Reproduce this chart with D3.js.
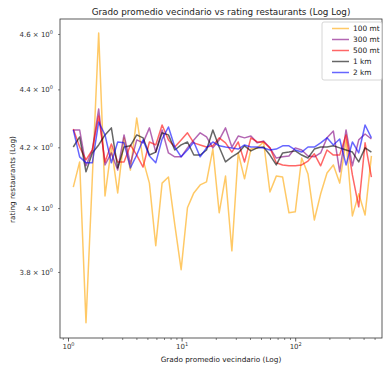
<!DOCTYPE html>
<html>
<head>
<meta charset="utf-8">
<script src="https://cdn.jsdelivr.net/npm/d3@7"></script>
<style>
  html, body { margin: 0; padding: 0; background: #fff; }
  svg { display: block; font-family: "DejaVu Sans", sans-serif; }
</style>
</head>
<body>
<svg id="chart" width="383" height="367"></svg>
<script>
// Average neighbourhood degree (bin centres, log-spaced)
const grado = [1.113, 1.266, 1.440, 1.637, 1.862, 2.117, 2.408, 2.738, 3.114, 3.541,
  4.027, 4.579, 5.208, 5.922, 6.735, 7.659, 8.710, 9.905, 11.26, 12.81,
  14.57, 16.57, 18.84, 21.42, 24.36, 27.71, 31.51, 35.83, 40.75, 46.34,
  52.70, 59.93, 68.15, 77.50, 88.13, 100.2, 114.0, 129.6, 147.4, 167.6,
  190.6, 216.8, 246.5, 280.3, 318.8, 362.5, 412.3, 468.8];

// Mean restaurant rating per radius
const rating100m = [4.068, 4.151, 3.648, 4.098, 4.604, 4.039, 4.198, 4.049, 4.232, 4.124,
  4.300, 4.158, 4.081, 3.881, 4.081, 4.101, 3.947, 3.807, 4.001, 4.049,
  4.075, 4.085, 4.194, 3.985, 4.104, 3.865, 4.181, 4.095, 4.194, 4.198,
  4.218, 4.052, 4.104, 4.101, 3.985, 3.988, 4.164, 4.111, 3.962, 4.046,
  4.114, 4.141, 4.081, 4.225, 3.975, 4.046, 3.978, 4.171];
const rating300m = [4.259, 4.259, 4.138, 4.191, 4.331, 4.141, 4.181, 4.124, 4.242, 4.144,
  4.225, 4.215, 4.266, 4.184, 4.259, 4.181, 4.168, 4.168, 4.198, 4.225,
  4.249, 4.235, 4.198, 4.225, 4.266, 4.201, 4.238, 4.232, 4.238, 4.215,
  4.221, 4.198, 4.164, 4.168, 4.171, 4.198, 4.191, 4.171, 4.168, 4.181,
  4.232, 4.255, 4.118, 4.259, 4.138, 4.225, 4.245, 4.228];
const rating500m = [4.262, 4.201, 4.158, 4.191, 4.307, 4.151, 4.211, 4.151, 4.151, 4.208,
  4.174, 4.134, 4.218, 4.208, 4.276, 4.225, 4.201, 4.225, 4.249, 4.215,
  4.208, 4.201, 4.205, 4.232, 4.215, 4.184, 4.218, 4.151, 4.232, 4.218,
  4.218, 4.198, 4.148, 4.141, 4.138, 4.138, 4.141, 4.154, 4.178, 4.138,
  4.191, 4.174, 4.174, 4.242, 4.108, 4.004, 4.215, 4.101];
const rating1km = [4.201, 4.235, 4.118, 4.181, 4.208, 4.242, 4.266, 4.131, 4.201, 4.205,
  4.242, 4.232, 4.174, 4.184, 4.249, 4.242, 4.191, 4.208, 4.218, 4.174,
  4.174, 4.191, 4.259, 4.201, 4.151, 4.168, 4.181, 4.205, 4.188, 4.198,
  4.201, 4.174, 4.141, 4.181, 4.184, 4.188, 4.174, 4.164, 4.194, 4.201,
  4.201, 4.205, 4.198, 4.191, 4.184, 4.151, 4.198, 4.184];
const rating2km = [4.259, 4.168, 4.148, 4.148, 4.286, 4.242, 4.148, 4.218, 4.215, 4.131,
  4.174, 4.225, 4.171, 4.148, 4.228, 4.269, 4.201, 4.168, 4.191, 4.218,
  4.168, 4.198, 4.218, 4.205, 4.201, 4.198, 4.194, 4.208, 4.201, 4.201,
  4.198, 4.191, 4.194, 4.205, 4.205, 4.191, 4.184, 4.201, 4.201, 4.215,
  4.232, 4.208, 4.228, 4.141, 4.218, 4.181, 4.276, 4.232];

const seriesNames = ["100 mt", "300 mt", "500 mt", "1 km", "2 km"];
const seriesColors = ["orange", "purple", "red", "black", "blue"];
const seriesValues = [rating100m, rating300m, rating500m, rating1km, rating2km];

const yTickValues = [3.8, 4.0, 4.2, 4.4, 4.6];
const yTickMantissa = ["3.8", "4", "4.2", "4.4", "4.6"];
const xMajorTicks = [1, 10, 100];
const xMajorExp = ["0", "1", "2"];

const svg = d3.select("#chart");
const plotLeft = 60, plotRight = 382, plotTop = 19, plotBottom = 338;

const x = d3.scaleLog().domain([0.8502, 581]).range([plotLeft, plotRight]);
const y = d3.scaleLog().domain([3.6038, 4.6557]).range([plotBottom, plotTop]);

// Series lines
const line = d3.line().x((d, i) => x(grado[i])).y(d => y(d));
const plot = svg.append("g");
seriesValues.forEach((vals, k) => {
  plot.append("path")
    .datum(vals)
    .attr("d", line)
    .attr("fill", "none")
    .attr("stroke", seriesColors[k])
    .attr("stroke-opacity", 0.6)
    .attr("stroke-width", 1.5)
    .attr("stroke-linejoin", "round");
});

// Frame
svg.append("rect")
  .attr("x", plotLeft).attr("y", plotTop)
  .attr("width", plotRight - plotLeft).attr("height", plotBottom - plotTop)
  .attr("fill", "none").attr("stroke", "#333").attr("stroke-width", 0.8);

// X axis: major ticks with labels, minor ticks without
const xMinor = [];
[0.1, 1, 10, 100].forEach(base => {
  for (let m = 2; m <= 9; m++) {
    const v = base * m;
    if (v > x.domain()[0] && v < x.domain()[1]) xMinor.push(v);
  }
});
const xAxisMinor = d3.axisBottom(x).tickValues(xMinor).tickSize(2).tickFormat("");
const gxm = svg.append("g").attr("transform", `translate(0,${plotBottom})`).call(xAxisMinor);
gxm.select(".domain").remove();
gxm.selectAll("line").attr("stroke", "#333").attr("stroke-width", 0.6);

const xAxis = d3.axisBottom(x).tickValues(xMajorTicks).tickSize(3.5).tickPadding(2.5).tickFormat(() => "");
const gx = svg.append("g").attr("transform", `translate(0,${plotBottom})`).call(xAxis);
gx.select(".domain").remove();
gx.selectAll("line").attr("stroke", "#333").attr("stroke-width", 0.8);
gx.selectAll(".tick text").each(function(d, i) {
  const t = d3.select(this).attr("font-size", 7).attr("fill", "#333").attr("font-family", "DejaVu Sans");
  t.append("tspan").text("10");
  t.append("tspan").text(xMajorExp[i]).attr("font-size", 5).attr("dy", -3.2);
});

// Y axis
const yAxis = d3.axisLeft(y).tickValues(yTickValues).tickSize(2).tickPadding(5).tickFormat(() => "");
const gy = svg.append("g").attr("transform", `translate(${plotLeft},0)`).call(yAxis);
gy.select(".domain").remove();
gy.selectAll("line").attr("stroke", "#333").attr("stroke-width", 0.6);
gy.selectAll(".tick text").each(function(d, i) {
  const t = d3.select(this).attr("font-size", 7).attr("fill", "#333").attr("font-family", "DejaVu Sans");
  t.append("tspan").text(yTickMantissa[i] + " \u00d7 10");
  t.append("tspan").text("0").attr("font-size", 5).attr("dy", -3.2);
});

// Title and axis labels
svg.append("text")
  .attr("x", (plotLeft + plotRight) / 2).attr("y", 15)
  .attr("text-anchor", "middle").attr("font-size", 8.8).attr("fill", "#222")
  .text("Grado promedio vecindario vs rating restaurants (Log Log)");
svg.append("text")
  .attr("x", (plotLeft + plotRight) / 2).attr("y", 362)
  .attr("text-anchor", "middle").attr("font-size", 7.3).attr("fill", "#222")
  .text("Grado promedio vecindario (Log)");
svg.append("text")
  .attr("transform", `translate(15,${(plotTop + plotBottom) / 2 + 1}) rotate(-90)`)
  .attr("text-anchor", "middle").attr("font-size", 7.3).attr("fill", "#222")
  .text("rating restaurants (Log)");

// Legend
const lg = svg.append("g").attr("transform", "translate(322,22)");
lg.append("rect")
  .attr("x", 0).attr("y", 0).attr("width", 60).attr("height", 58).attr("rx", 2)
  .attr("fill", "#fff").attr("fill-opacity", 0.8)
  .attr("stroke", "#ccc").attr("stroke-width", 0.8);
seriesNames.forEach((name, k) => {
  const yy = 6.5 + k * 11;
  lg.append("line")
    .attr("x1", 10).attr("x2", 27).attr("y1", yy).attr("y2", yy)
    .attr("stroke", seriesColors[k]).attr("stroke-opacity", 0.6).attr("stroke-width", 1.5);
  lg.append("text")
    .attr("x", 31).attr("y", yy + 2.6)
    .attr("font-size", 7.4).attr("fill", "#222")
    .text(name);
});
</script>
</body>
</html>
